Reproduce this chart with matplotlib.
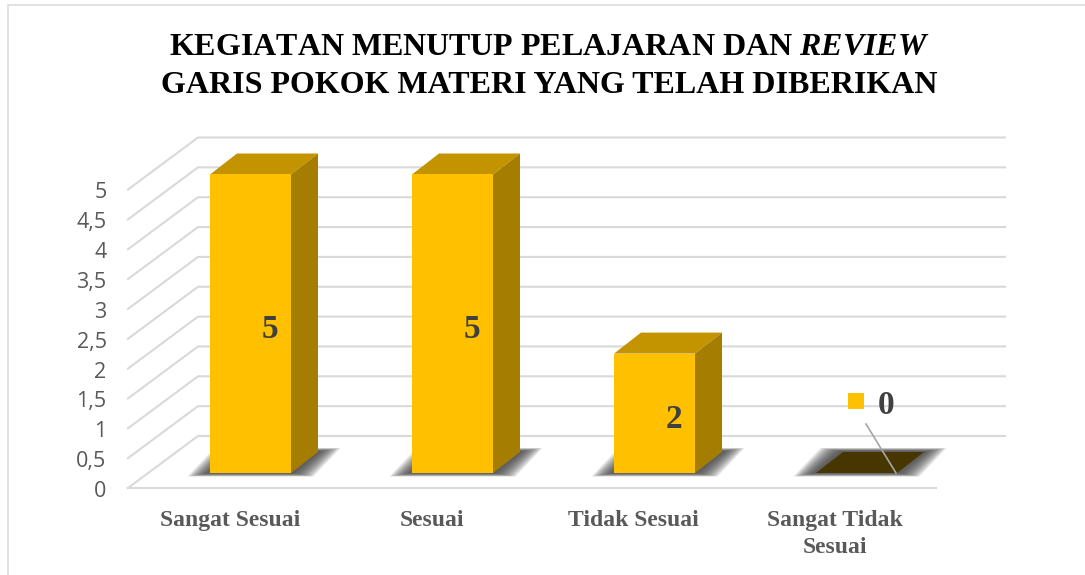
import numpy as np
import matplotlib
matplotlib.use('Agg')
import matplotlib.pyplot as plt
from matplotlib.patches import Polygon

categories = ['Sangat Sesuai', 'Sesuai', 'Tidak Sesuai', 'Sangat Tidak\nSesuai']
values = [5, 5, 2, 0]
y_ticks = [0, 0.5, 1, 1.5, 2, 2.5, 3, 3.5, 4, 4.5, 5]
y_tick_labels = ['0', '0,5', '1', '1,5', '2', '2,5', '3', '3,5', '4', '4,5', '5']

plt.rcParams['font.family'] = ['Liberation Serif', 'DejaVu Serif']
plt.rcParams['mathtext.fontset'] = 'custom'
plt.rcParams['mathtext.it'] = 'Liberation Serif:italic:bold'
plt.rcParams['mathtext.rm'] = 'Liberation Serif:bold'

W, H = 1085, 575
# one category = 202 px, one value unit = 59.7 px
PX, PY = 202.0, 59.7
X0, Y0 = 250.5, 473.0
dx, dy = 27 / PX, 21 / PY          # bar depth
half = 40.5 / PX

fig = plt.figure(figsize=(W / 100, H / 100), dpi=100)
ax = fig.add_axes([0, 0, 1, 1])
ax.set_xlim(-X0 / PX, (W - X0) / PX)
ax.set_ylim((Y0 - H) / PY, Y0 / PY)
ax.axis('off')

# chart frame, left and top edges
ax.plot([(8.5 - X0) / PX, (8.5 - X0) / PX, (W - X0) / PX], [(Y0 - H) / PY, (Y0 - 5.5) / PY, (Y0 - 5.5) / PY],
        color='#dedede', lw=1.3)

# walls: floor front edge at 128..936 px, back wall 198..1005 px
xl, xb, xr, xe = [(p - X0) / PX for p in (128, 198, 936, 1005)]
front0, back0 = -15 / PY, 37 / PY
grid = '#d9d9d9'
for v in y_ticks:
    ax.plot([xl, xb, xe], [front0 + v, back0 + v, back0 + v], color=grid, lw=1.5, zorder=1,
            solid_joinstyle='miter')
ax.plot([xl, xr], [front0, front0], color=grid, lw=1.5, zorder=1)

for t, lab in zip(y_ticks, y_tick_labels):
    ax.text(xl - 21.5 / PX, front0 + t - 9 / PY, lab, ha='right', va='baseline',
            family=['Open Sans', 'DejaVu Sans'], fontsize=15.5, color='#595959', zorder=5)


def shadow(i, ax):
    l, r = i - half, i + half
    for k in range(16, 0, -1):
        g = (k * 1.35 + 1) / PX
        h = (k * 0.22 - 1) / PY
        ax.add_patch(Polygon([(l - g, -1 / PY - h), (r + g, -1 / PY - h),
                              (r + dx + g, 22.5 / PY + h), (l + dx - g, 22.5 / PY + h)],
                             fc='#404040', ec='none', alpha=0.1, zorder=2))


for i, v in enumerate(values):
    shadow(i, ax)
    l, r = i - half, i + half
    if v == 0:
        ax.add_patch(Polygon([(l, 0), (r, 0), (r + dx, dy), (l + dx, dy)], fc='#473600', ec='none', zorder=3))
        continue
    ax.add_patch(Polygon([(l, v), (r, v), (r + dx, v + dy), (l + dx, v + dy)], fc='#c49400', ec='none', zorder=3))
    ax.add_patch(Polygon([(r, 0), (r + dx, dy), (r + dx, v + dy), (r, v)], fc='#a57d00', ec='none', zorder=3))
    ax.add_patch(Polygon([(l, 0), (r, 0), (r, v), (l, v)], fc='#ffc000', ec='none', zorder=4))

# data labels
label_pos = [(270, 329), (472, 329), (674, 419), (886, 405)]
for (px, py), v in zip(label_pos, values):
    ax.text((px - X0) / PX, (Y0 - py) / PY, str(v), ha='center', va='center', fontsize=24,
            fontweight='bold', color='#404040', zorder=6)

# legend key and leader line for the zero label
ax.scatter([(856 - X0) / PX], [(Y0 - 401) / PY], marker='s', s=130, color='#ffc000', linewidths=0, zorder=6)
ax.plot([(866 - X0) / PX, (896 - X0) / PX], [(Y0 - 424) / PY, (Y0 - 473) / PY], color='#a6a6a6', lw=1.2, zorder=6)

# category labels
for i, c in enumerate(categories):
    cx = [230, 432, 633, 835][i]
    ax.text((cx - X0) / PX, (Y0 - 510) / PY, c, ha='center', va='top', fontsize=17,
            fontweight='bold', color='#595959', linespacing=1.35, zorder=6)

# title
ax.text((549 - X0) / PX, (Y0 - 55) / PY, r'KEGIATAN MENUTUP PELAJARAN DAN $\mathit{REVIEW}$', ha='center', va='baseline',
        fontsize=23, fontweight='bold', color='black')
ax.text((549 - X0) / PX, (Y0 - 93) / PY, 'GARIS POKOK MATERI YANG TELAH DIBERIKAN', ha='center', va='baseline',
        fontsize=23, fontweight='bold', color='black')

fig.savefig('out.png', dpi=100)
plt.close(fig)
